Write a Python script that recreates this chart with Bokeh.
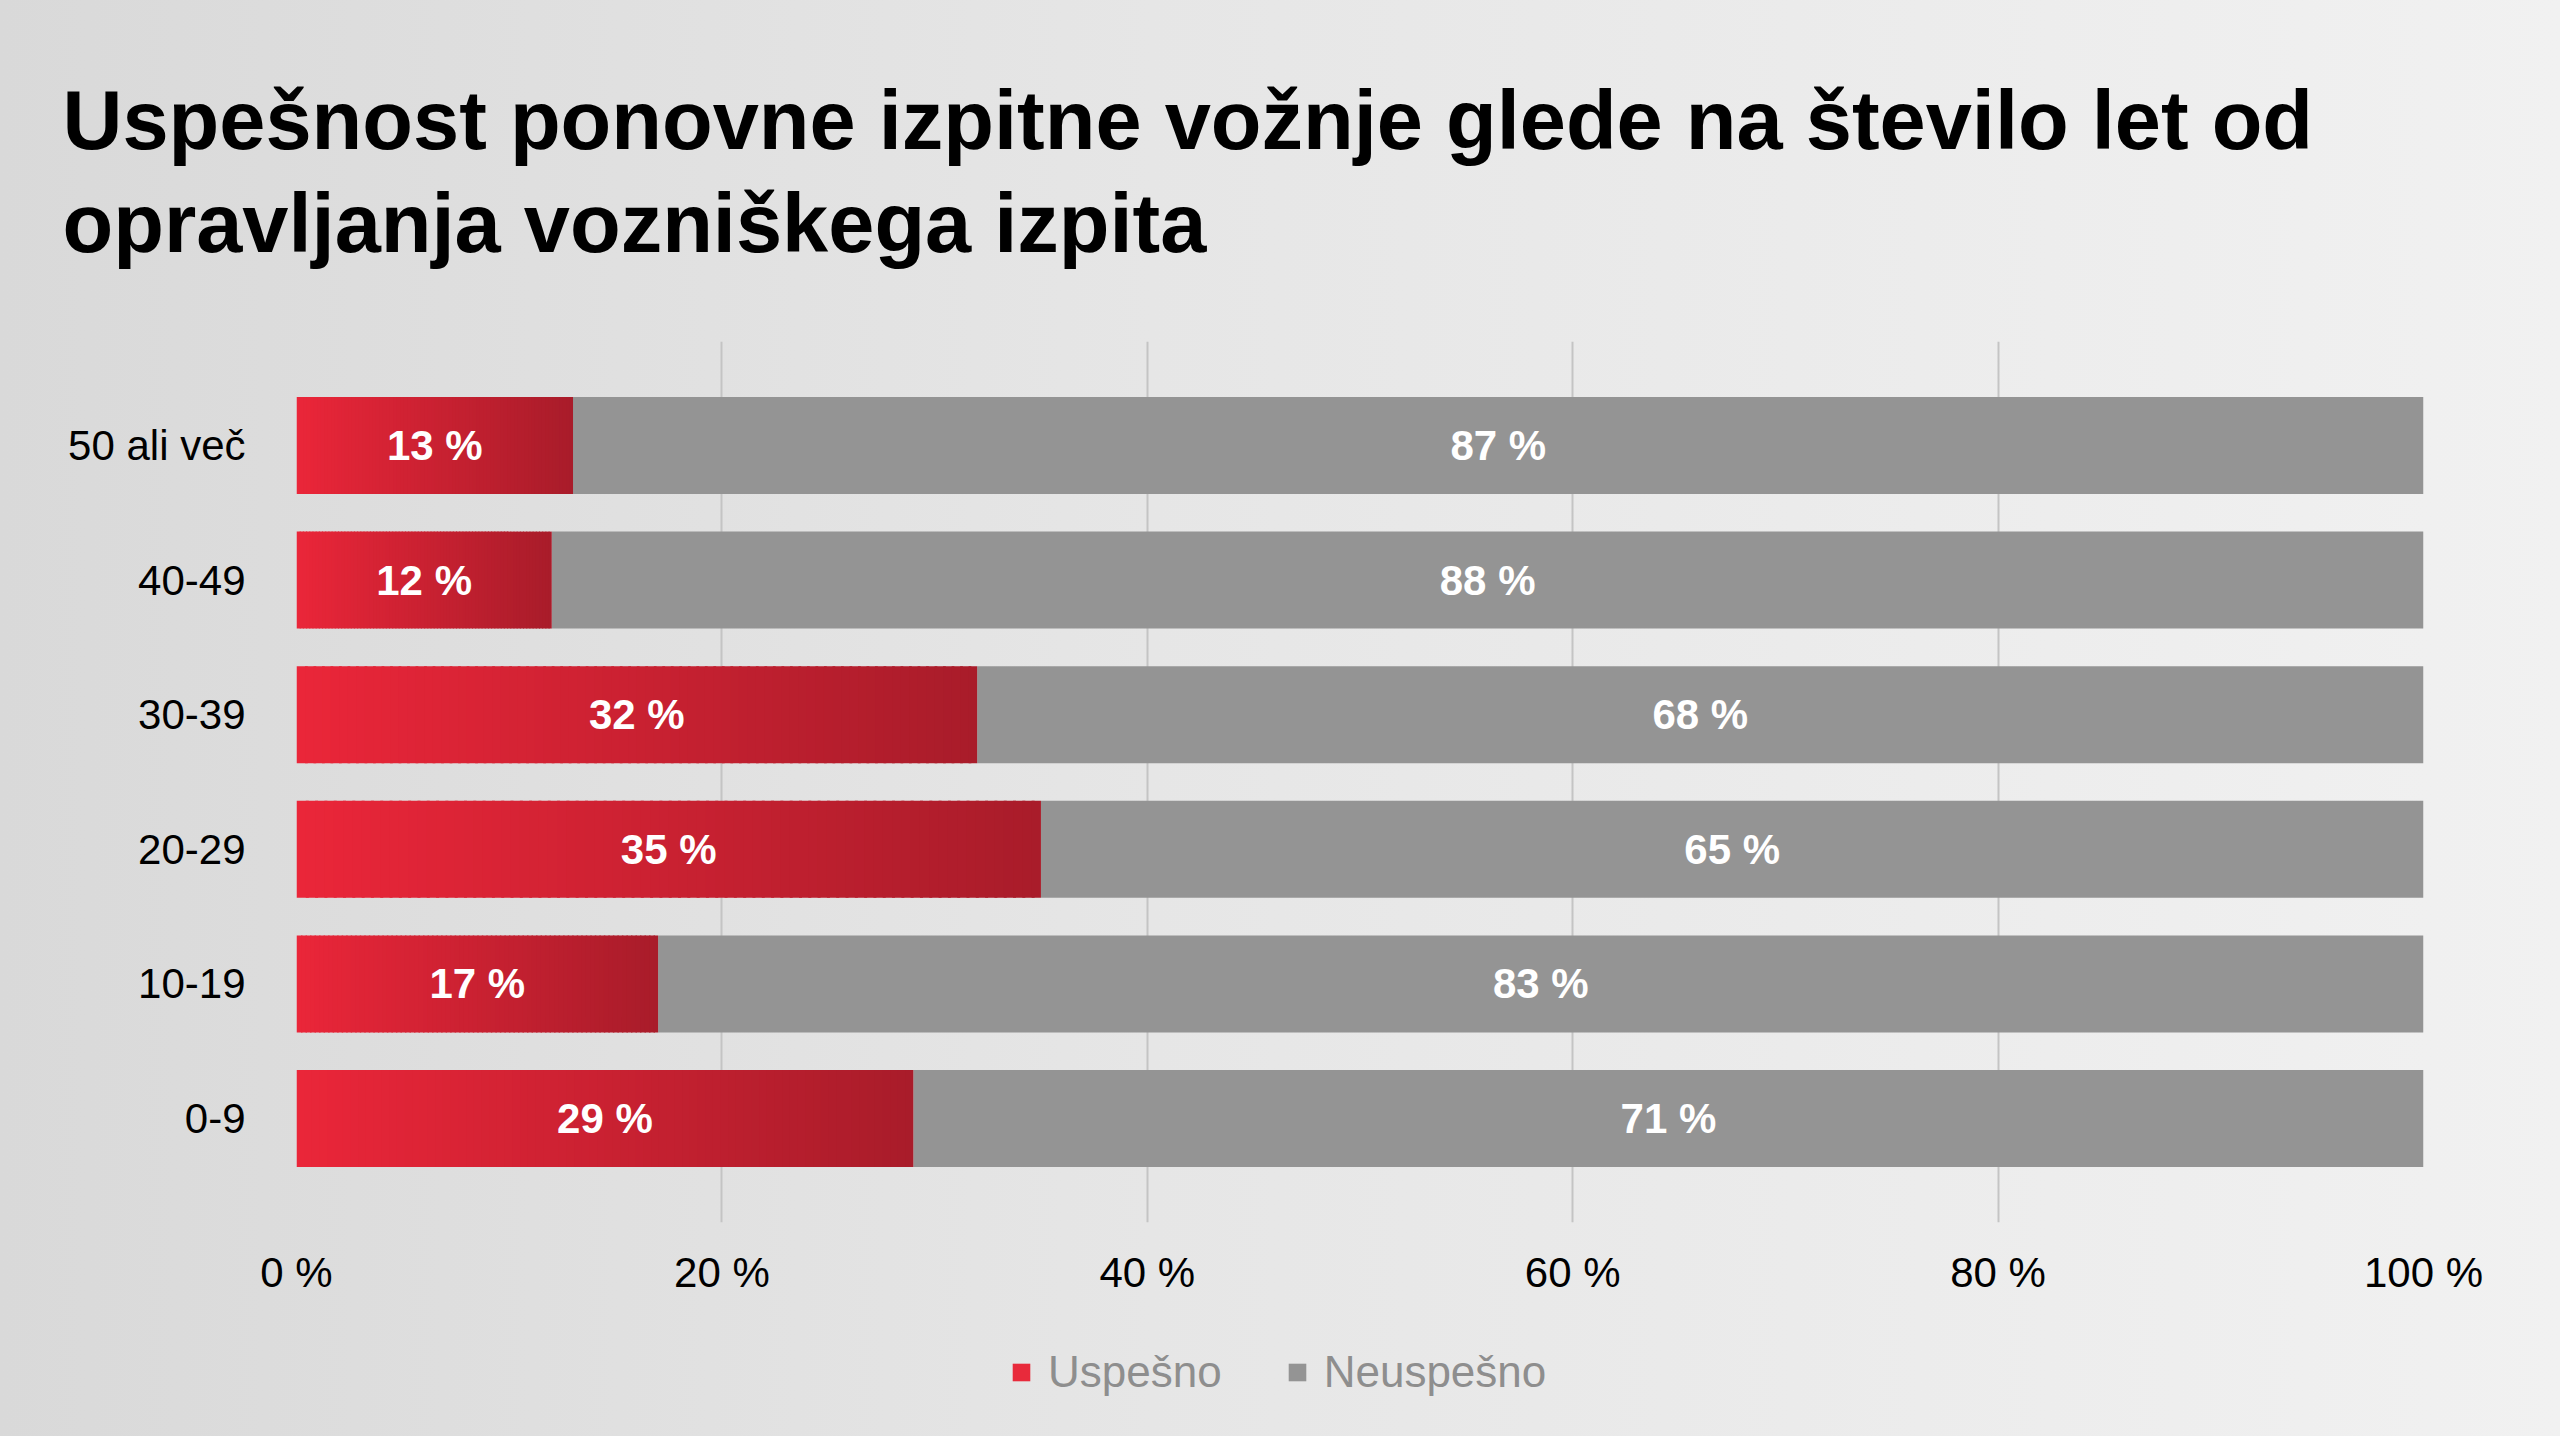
from bokeh.plotting import figure
from bokeh.layouts import column
from bokeh.models import (ColumnDataSource, Legend, LegendItem, Title, FixedTicker, Range1d)
from bokeh.core.properties import value
from bokeh.embed import file_html
from bokeh.resources import INLINE

# Years since the driving licence was obtained (top row first)
categories = ["50 ali več", "40-49", "30-39", "20-29", "10-19", "0-9"]
uspesno = [13, 12, 32, 35, 17, 29]      # passed, %
neuspesno = [87, 88, 68, 65, 83, 71]    # failed, %
x_ticks = [0, 20, 40, 60, 80, 100]
x_tick_labels = ["0 %", "20 %", "40 %", "60 %", "80 %", "100 %"]
title_lines = ["Uspešnost ponovne izpitne vožnje glede na število let od",
               "opravljanja vozniškega izpita"]
series_names = ["Uspešno", "Neuspešno"]

FONT = "Liberation Sans"
RED_L = (234, 38, 57)
RED_R = (169, 28, 42)
GRAY = "#949494"
W = 2560
LEGEND_H = 114
MAIN_H = 1436 - LEGEND_H

n = len(categories)
ypos = [n - 1 - i for i in range(n)]

p = figure(width=W, height=MAIN_H, output_backend="svg", toolbar_location=None,
           x_range=(0, 100), y_range=(-0.772, n - 1 + 0.772),
           min_border_left=296, min_border_right=137, min_border_top=340,
           min_border_bottom=100)
p.background_fill_alpha = 0
p.border_fill_alpha = 0
p.outline_line_color = None

# two-line title, left edge pulled out past the plot frame
p.title = None
p.add_layout(Title(text="\n".join(title_lines), align="left", offset=-234,
                   standoff=143, vertical_align="bottom",
                   text_font=FONT, text_font_style="bold", text_font_size="83px",
                   text_line_height=1.11, text_color="#000000"), "above")

p.xaxis.ticker = FixedTicker(ticks=x_ticks)
p.xaxis.major_label_overrides = {t: l for t, l in zip(x_ticks, x_tick_labels)}
p.yaxis.ticker = FixedTicker(ticks=ypos)
p.yaxis.major_label_overrides = {y: c for y, c in zip(ypos, categories)}
for ax in (p.xaxis[0], p.yaxis[0]):
    ax.axis_line_color = None
    ax.major_tick_line_color = None
    ax.minor_tick_line_color = None
    ax.major_label_text_font = FONT
    ax.major_label_text_font_size = "42px"
    ax.major_label_text_color = "#000000"
p.xaxis.major_label_standoff = 20
p.yaxis.major_label_standoff = 45

p.ygrid.grid_line_color = None
p.xgrid.ticker = FixedTicker(ticks=x_ticks)
p.xgrid.grid_line_color = "#c4c4c4"
p.xgrid.grid_line_width = 2

BAR_H = 0.72

# failed share (gray) stacked after the passed share
gray_src = ColumnDataSource(dict(y=ypos, left=uspesno,
                                 right=[a + b for a, b in zip(uspesno, neuspesno)]))
p.hbar(y="y", left="left", right="right", height=BAR_H, source=gray_src,
       fill_color=GRAY, line_color=None)

# passed share (red) drawn as thin strips shading from bright to dark red
STEPS = 80
sy, sl, sr, sc = [], [], [], []
for y, v in zip(ypos, uspesno):
    for k in range(STEPS):
        t = k / (STEPS - 1)
        c = tuple(int(round(RED_L[j] + (RED_R[j] - RED_L[j]) * t)) for j in range(3))
        sy.append(y)
        sl.append(v * k / STEPS)
        sr.append(min(v, v * (k + 1) / STEPS + v * 0.004))
        sc.append("#%02x%02x%02x" % c)
red_src = ColumnDataSource(dict(y=sy, left=sl, right=sr, color=sc))
p.hbar(y="y", left="left", right="right", height=BAR_H, source=red_src,
       fill_color="color", line_color=None)

# value labels centred in each segment
lab_src = ColumnDataSource(dict(
    x=[v / 2 for v in uspesno] + [a + b / 2 for a, b in zip(uspesno, neuspesno)],
    y=ypos + ypos,
    t=[f"{v} %" for v in uspesno] + [f"{v} %" for v in neuspesno]))
p.text(x="x", y="y", text="t", source=lab_src, text_align="center",
       text_baseline="middle", text_color="white", text_font=value(FONT),
       text_font_style="bold", text_font_size="42px")

# ---- legend strip below the chart -------------------------------------
foot = figure(width=W, height=LEGEND_H, output_backend="svg", toolbar_location=None,
              x_range=Range1d(0, 1), y_range=Range1d(0, 1),
              x_axis_type=None, y_axis_type=None, min_border=0)
foot.grid.visible = False
foot.outline_line_color = None
foot.background_fill_alpha = 0
foot.border_fill_alpha = 0
nan = float("nan")
key_red = foot.quad(left=[nan], right=[nan], top=[nan], bottom=[nan],
                    fill_color="#e82a3b", line_color=None)
key_gray = foot.quad(left=[nan], right=[nan], top=[nan], bottom=[nan],
                     fill_color=GRAY, line_color=None)
legend = Legend(items=[LegendItem(label=series_names[0], renderers=[key_red], index=0),
                       LegendItem(label=series_names[1], renderers=[key_gray], index=0)],
                orientation="horizontal", location=(714, 39),
                glyph_width=22, glyph_height=22, label_standoff=16, spacing=64,
                label_text_font=FONT, label_text_font_size="44px",
                label_text_color="#8e8e8e", background_fill_alpha=0,
                border_line_color=None, padding=0, margin=0, label_height=22)
foot.add_layout(legend, "center")

page = column(p, foot, spacing=0)
page.styles = {"background": "linear-gradient(90deg, #d9d9d9 0%, #e6e6e6 45%, #f1f1f1 100%)"}

open("out.html", "w").write(file_html(page, INLINE))
